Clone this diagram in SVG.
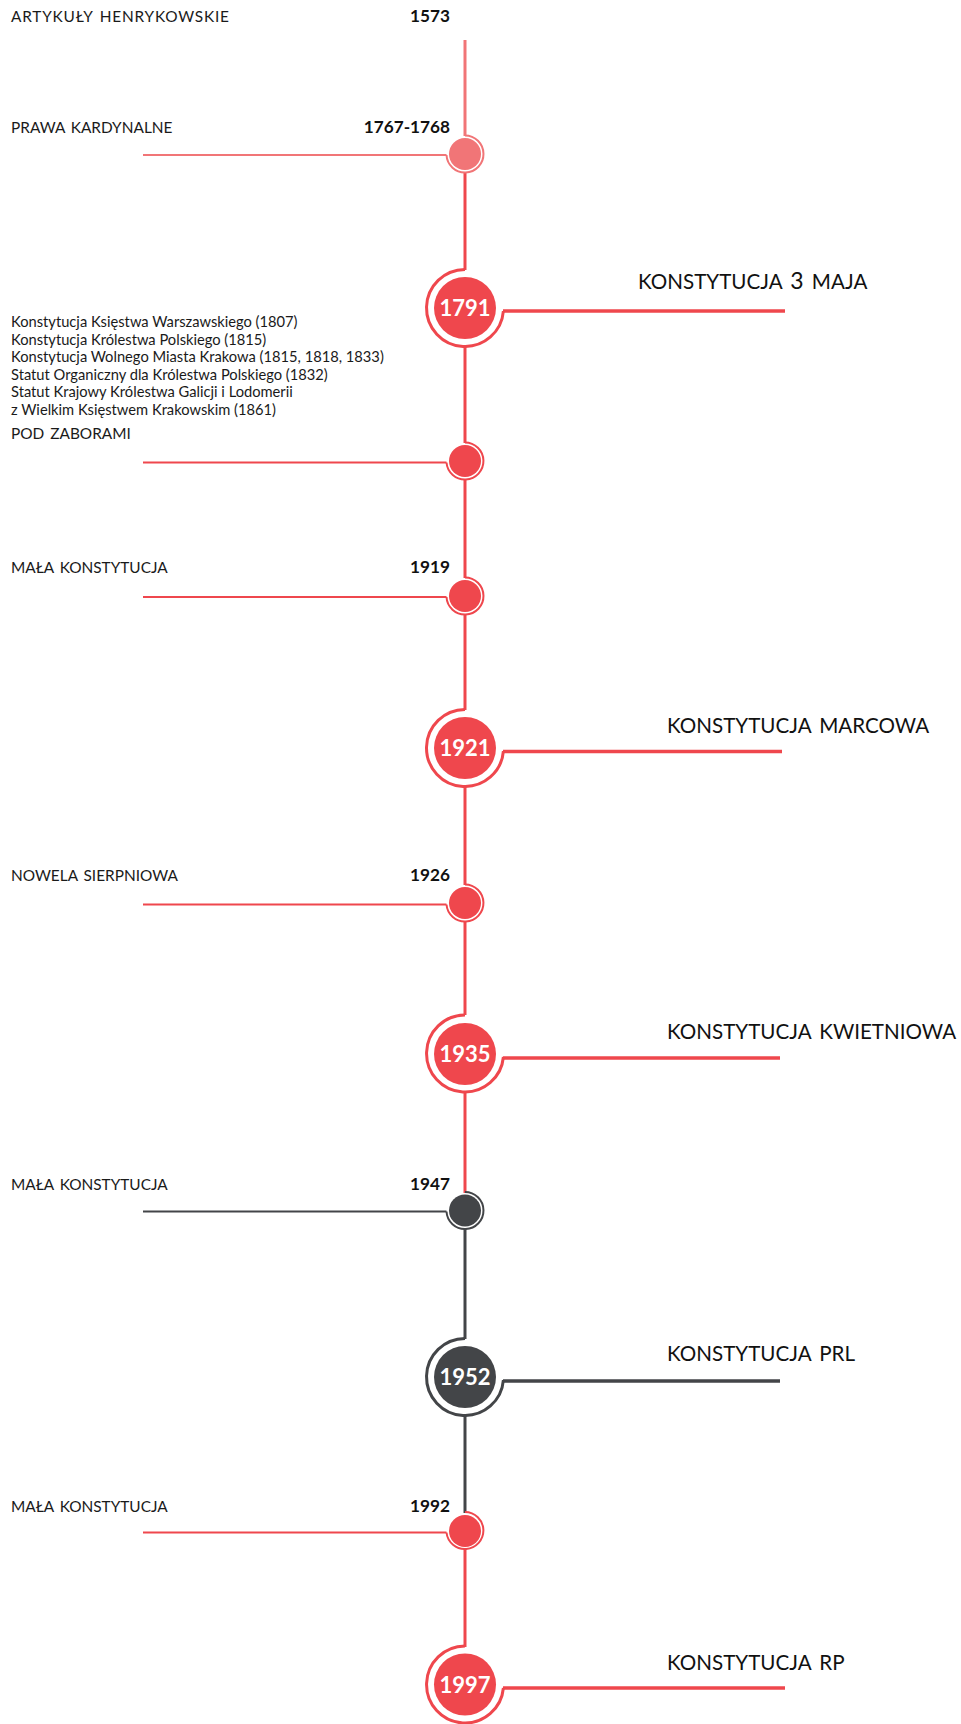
<svg xmlns="http://www.w3.org/2000/svg" width="961" height="1724" viewBox="0 0 961 1724">
<style>
.lbl{font-family:Lato,"Liberation Sans",sans-serif;font-size:15.4px;fill:#1a1a1a;word-spacing:2px}
.small{font-family:Lato,"Liberation Sans",sans-serif;font-size:14.7px;fill:#1a1a1a}
.yr{font-family:Lato,"Liberation Sans",sans-serif;font-size:17.2px;font-weight:bold;fill:#111;text-anchor:end}
.title{font-family:Lato,"Liberation Sans",sans-serif;font-size:20.6px;fill:#111;word-spacing:3px}
.big{font-family:Lato,"Liberation Sans",sans-serif;font-size:22px;font-weight:bold;fill:#fff;text-anchor:middle}
.r{stroke:#EF474D}
.p{stroke:#F17577}
.d{stroke:#434548}
.v{stroke-width:3;fill:none}
.hl{stroke-width:2;fill:none}
.hr{stroke-width:3.5;fill:none}
.ring{fill:none;stroke-width:2}
.bring{fill:none;stroke-width:3}
</style>
<rect width="961" height="1724" fill="#fff"/>
<g id="connectors">
<line class="v p" x1="465" y1="40" x2="465" y2="136"/>
<line class="v r" x1="465" y1="172" x2="465" y2="270"/>
<line class="v r" x1="465" y1="346" x2="465" y2="443"/>
<line class="v r" x1="465" y1="479" x2="465" y2="578"/>
<line class="v r" x1="465" y1="614" x2="465" y2="710"/>
<line class="v r" x1="465" y1="786" x2="465" y2="885"/>
<line class="v r" x1="465" y1="921" x2="465" y2="1015"/>
<line class="v r" x1="465" y1="1091" x2="465" y2="1193"/>
<line class="v d" x1="465" y1="1229" x2="465" y2="1339"/>
<line class="v d" x1="465" y1="1415" x2="465" y2="1513"/>
<line class="v r" x1="465" y1="1549" x2="465" y2="1647"/>
</g>
<g id="n1573">
<text class="lbl" x="11" y="22" letter-spacing="0.8">ARTYKUŁY HENRYKOWSKIE</text>
<text class="yr" x="450" y="22">1573</text>
</g>
<g id="n1767">
<text class="lbl" x="11" y="133">PRAWA KARDYNALNE</text>
<text class="yr" x="450" y="133">1767-1768</text>
<line class="hl p" x1="143" y1="155" x2="446.5" y2="155"/>
<path class="ring p" d="M446.5 155 A18.5 18.5 0 1 0 465 135.5"/>
<circle cx="465" cy="154" r="16" fill="#F17577"/>
</g>
<g id="n1791">
<path class="bring r" d="M465 269.5 A38.5 38.5 0 1 0 503.4 311"/>
<line class="hr r" x1="503" y1="311" x2="785" y2="311"/>
<circle cx="465" cy="308" r="31" fill="#EF474D"/>
<text class="big" x="465" y="316">1791</text>
<text class="title" x="638" y="289">KONSTYTUCJA <tspan font-size="23">3</tspan> MAJA</text>
</g>
<g id="nzabory">
<text class="small" x="11" y="327">Konstytucja Księstwa Warszawskiego (1807)</text>
<text class="small" x="11" y="344.5">Konstytucja Królestwa Polskiego (1815)</text>
<text class="small" x="11" y="362">Konstytucja Wolnego Miasta Krakowa (1815, 1818, 1833)</text>
<text class="small" x="11" y="379.5">Statut Organiczny dla Królestwa Polskiego (1832)</text>
<text class="small" x="11" y="397">Statut Krajowy Królestwa Galicji i Lodomerii</text>
<text class="small" x="11" y="414.5">z Wielkim Księstwem Krakowskim (1861)</text>
<text class="lbl" x="11" y="439">POD ZABORAMI</text>
<line class="hl r" x1="143" y1="462.5" x2="446.5" y2="462.5"/>
<path class="ring r" d="M446.5 462.5 A18.5 18.5 0 1 0 465 442.5"/>
<circle cx="465" cy="461" r="16" fill="#EF474D"/>
</g>
<g id="n1919">
<text class="lbl" x="11" y="573">MAŁA KONSTYTUCJA</text>
<text class="yr" x="450" y="573">1919</text>
<line class="hl r" x1="143" y1="597" x2="446.5" y2="597"/>
<path class="ring r" d="M446.5 597 A18.5 18.5 0 1 0 465 577.5"/>
<circle cx="465" cy="596" r="16" fill="#EF474D"/>
</g>
<g id="n1921">
<path class="bring r" d="M465 709.5 A38.5 38.5 0 1 0 503.4 751"/>
<line class="hr r" x1="503" y1="751.5" x2="782" y2="751.5"/>
<circle cx="465" cy="748" r="31" fill="#EF474D"/>
<text class="big" x="465" y="756">1921</text>
<text class="title" x="667" y="733">KONSTYTUCJA MARCOWA</text>
</g>
<g id="n1926">
<text class="lbl" x="11" y="881">NOWELA SIERPNIOWA</text>
<text class="yr" x="450" y="881">1926</text>
<line class="hl r" x1="143" y1="904.5" x2="446.5" y2="904.5"/>
<path class="ring r" d="M446.5 904.5 A18.5 18.5 0 1 0 465 884.5"/>
<circle cx="465" cy="903" r="16" fill="#EF474D"/>
</g>
<g id="n1935">
<path class="bring r" d="M465 1015 A38.5 38.5 0 1 0 503.4 1057"/>
<line class="hr r" x1="503" y1="1058" x2="780" y2="1058"/>
<circle cx="465" cy="1054" r="31" fill="#EF474D"/>
<text class="big" x="465" y="1062">1935</text>
<text class="title" x="667" y="1039">KONSTYTUCJA KWIETNIOWA</text>
</g>
<g id="n1947">
<text class="lbl" x="11" y="1190">MAŁA KONSTYTUCJA</text>
<text class="yr" x="450" y="1190">1947</text>
<line class="hl d" x1="143" y1="1211.5" x2="446.5" y2="1211.5"/>
<path class="ring d" d="M446.5 1211.5 A18.5 18.5 0 1 0 465 1192"/>
<circle cx="465" cy="1210.5" r="16" fill="#434548"/>
</g>
<g id="n1952">
<path class="bring d" d="M465 1338.5 A38.5 38.5 0 1 0 503.4 1380"/>
<line class="hr d" x1="503" y1="1381" x2="780" y2="1381"/>
<circle cx="465" cy="1377" r="31" fill="#434548"/>
<text class="big" x="465" y="1385">1952</text>
<text class="title" x="667" y="1361">KONSTYTUCJA PRL</text>
</g>
<g id="n1992">
<text class="lbl" x="11" y="1512">MAŁA KONSTYTUCJA</text>
<text class="yr" x="450" y="1512">1992</text>
<line class="hl r" x1="143" y1="1532.5" x2="446.5" y2="1532.5"/>
<path class="ring r" d="M446.5 1532.5 A18.5 18.5 0 1 0 465 1512"/>
<circle cx="465" cy="1531" r="16" fill="#EF474D"/>
</g>
<g id="n1997">
<path class="bring r" d="M465 1646 A38.5 38.5 0 1 0 503.4 1688"/>
<line class="hr r" x1="503" y1="1688" x2="785" y2="1688"/>
<circle cx="465" cy="1684.5" r="31" fill="#EF474D"/>
<text class="big" x="465" y="1692.5">1997</text>
<text class="title" x="667" y="1670">KONSTYTUCJA RP</text>
</g>
</svg>
